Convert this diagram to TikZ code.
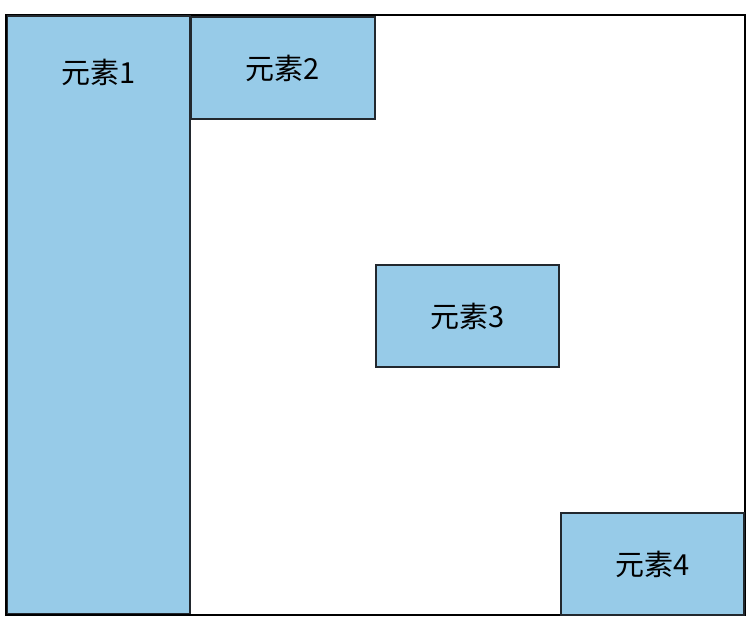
\documentclass[tikz,border=0pt]{standalone}
\usepackage{fontspec}
\newfontfamily\cjk{Noto Sans CJK SC}
\usepackage{tikz}
\usetikzlibrary{positioning, calc}

\definecolor{elemblue}{RGB}{151,203,232}
\definecolor{elemline}{RGB}{34,40,46}

\begin{document}
\begin{tikzpicture}[x=0.02cm, y=-0.02cm,
    elem/.style={draw=elemline, fill=elemblue, line width=1.1pt, rectangle, inner sep=0pt,
        minimum width=3.66cm, minimum height=2.04cm},
    elemtext/.style={font=\cjk\fontsize{16.5pt}{18pt}\selectfont, text=black}]
    \useasboundingbox (0,0) rectangle (750,622);
    % container
    \draw[black, line width=1pt] (6,15) rectangle (745,615);
    % elements
    \node[elem, minimum height=11.96cm] (e1) at (98.5,315) {};
    \node[elemtext] (t1) at ($(e1.north)+(0,57)$) {元素1};
    \node[elem, minimum width=3.68cm, elemtext] (e2) at (283,68) {\raisebox{-2pt}{元素2}};
    \node[elem, elemtext] (e3) at (467.5,316) {\raisebox{-1pt}{元素3}};
    \node[elem, elemtext] (e4) at (652.5,564) {\raisebox{-1pt}{元素4}};
    % left and bottom edges of the container
    \draw[black, line width=1.6pt] (6,15) -- (6,615) -- (560,615);
\end{tikzpicture}
\end{document}
